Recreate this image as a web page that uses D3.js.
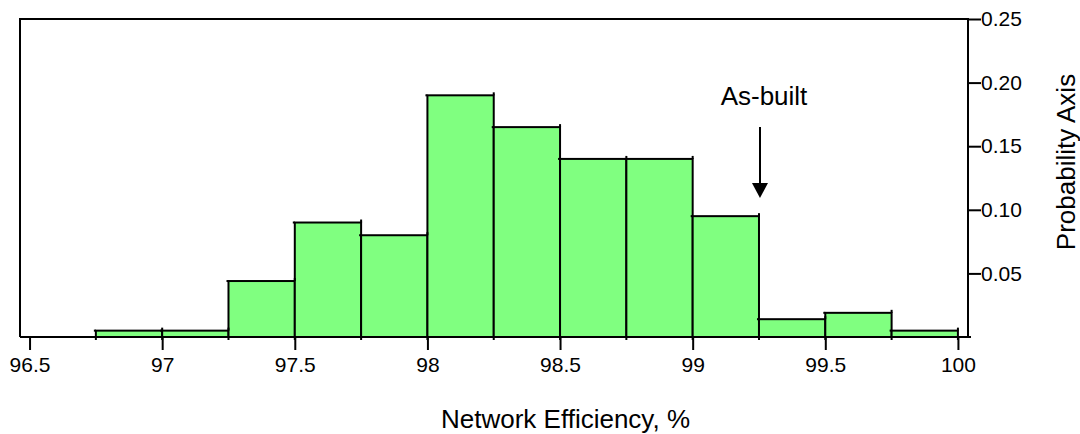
<!DOCTYPE html>
<html>
<head>
<meta charset="utf-8">
<script src="https://cdn.jsdelivr.net/npm/d3@7/dist/d3.min.js"></script>
<style>
  html, body { margin: 0; padding: 0; background: #fff; }
  svg { display: block; }
  text { font-family: "Liberation Sans", Arial, sans-serif; fill: #000; }
</style>
</head>
<body>
<svg id="chart" width="1080" height="434"></svg>
<script>
// ---- data ----
const binStarts = [96.75, 97.0, 97.25, 97.5, 97.75, 98.0, 98.25, 98.5, 98.75, 99.0, 99.25, 99.5, 99.75];
const binWidth = 0.25;
const probabilities = [0.005, 0.005, 0.044, 0.09, 0.08, 0.19, 0.165, 0.14, 0.14, 0.095, 0.014, 0.019, 0.005];
const xTicks = [96.5, 97, 97.5, 98, 98.5, 99, 99.5, 100];
const yTicks = [0.05, 0.10, 0.15, 0.20, 0.25];
const xTitle = "Network Efficiency, %";
const yTitle = "Probability Axis";
const annotation = { label: "As-built", value: 99.25 };

// ---- layout ----
const pL = 20, pR = 968, pT = 19, pB = 337;
const svg = d3.select("#chart");

const x = d3.scaleLinear().domain([96.464, 100.038]).range([pL, pR]);
const y = d3.scaleLinear().domain([0, 0.25]).range([pB, pT]);

const bars = binStarts.map((s, i) => ({ x0: s, x1: s + binWidth, p: probabilities[i] }));

// bars
const g = svg.append("g");
g.selectAll("rect.bar").data(bars).enter().append("rect")
  .attr("class", "bar")
  .attr("x", d => x(d.x0))
  .attr("y", d => y(d.p))
  .attr("width", d => x(d.x1) - x(d.x0))
  .attr("height", d => y(0) - y(d.p))
  .attr("fill", "#80ff80")
  .attr("stroke", "#000")
  .attr("stroke-width", 2);

// small end marks at bar edges (top caps and below baseline)
g.selectAll("line.cap").data(bars).enter().append("line")
  .attr("x1", d => x(d.x1)).attr("x2", d => x(d.x1))
  .attr("y1", d => y(d.p) - 3).attr("y2", d => y(d.p))
  .attr("stroke", "#000").attr("stroke-width", 2);
g.selectAll("line.capl").data(bars).enter().append("line")
  .attr("x1", d => x(d.x0) - 2).attr("x2", d => x(d.x0))
  .attr("y1", d => y(d.p)).attr("y2", d => y(d.p))
  .attr("stroke", "#000").attr("stroke-width", 2);
const edges = binStarts.concat([binStarts[binStarts.length - 1] + binWidth]);
g.selectAll("line.below").data(edges).enter().append("line")
  .attr("x1", d => x(d)).attr("x2", d => x(d))
  .attr("y1", pB).attr("y2", pB + 3)
  .attr("stroke", "#000").attr("stroke-width", 2);

// frame: left and top
svg.append("line").attr("x1", pL).attr("x2", pL).attr("y1", pT - 1).attr("y2", pB)
  .attr("stroke", "#000").attr("stroke-width", 2);
svg.append("line").attr("x1", pL - 1).attr("x2", pR).attr("y1", pT).attr("y2", pT)
  .attr("stroke", "#000").attr("stroke-width", 2);

// bottom axis
const xAxis = d3.axisBottom(x).tickValues(xTicks).tickSize(13).tickPadding(7)
  .tickFormat(d3.format("~g"));
const xg = svg.append("g").attr("transform", `translate(0,${pB})`).call(xAxis);
xg.select(".domain").remove();
xg.selectAll(".tick line").attr("stroke", "#000").attr("stroke-width", 2);
xg.selectAll(".tick text").attr("font-size", 21).attr("font-family", "Liberation Sans, Arial, sans-serif")
  .attr("fill", "#000");
svg.append("line").attr("x1", pL).attr("x2", pR + 3).attr("y1", pB).attr("y2", pB)
  .attr("stroke", "#000").attr("stroke-width", 2);

// right axis
const yAxis = d3.axisRight(y).tickValues(yTicks).tickSize(13).tickPadding(0)
  .tickFormat(d3.format(".2f"));
const yg = svg.append("g").attr("transform", `translate(${pR},0)`).call(yAxis);
yg.select(".domain").remove();
yg.selectAll(".tick line").attr("stroke", "#000").attr("stroke-width", 2);
yg.selectAll(".tick text").attr("font-size", 21).attr("font-family", "Liberation Sans, Arial, sans-serif")
  .attr("fill", "#000");
svg.append("line").attr("x1", pR).attr("x2", pR).attr("y1", pT - 1).attr("y2", pB + 1)
  .attr("stroke", "#000").attr("stroke-width", 2);

// titles
svg.append("text").attr("x", 441).attr("y", 428).attr("font-size", 26)
  .text(xTitle);
svg.append("text").attr("transform", `translate(1075,162) rotate(-90)`)
  .attr("text-anchor", "middle").attr("font-size", 26).text(yTitle);

// annotation
const ax = x(annotation.value) + 1;
svg.append("text").attr("x", ax + 4).attr("y", 105).attr("text-anchor", "middle")
  .attr("font-size", 26).text(annotation.label);
svg.append("line").attr("x1", ax).attr("x2", ax).attr("y1", 127).attr("y2", 185)
  .attr("stroke", "#000").attr("stroke-width", 2);
svg.append("path").attr("d", `M${ax - 8},183 L${ax + 8},183 L${ax},198 Z`).attr("fill", "#000");
</script>
</body>
</html>
